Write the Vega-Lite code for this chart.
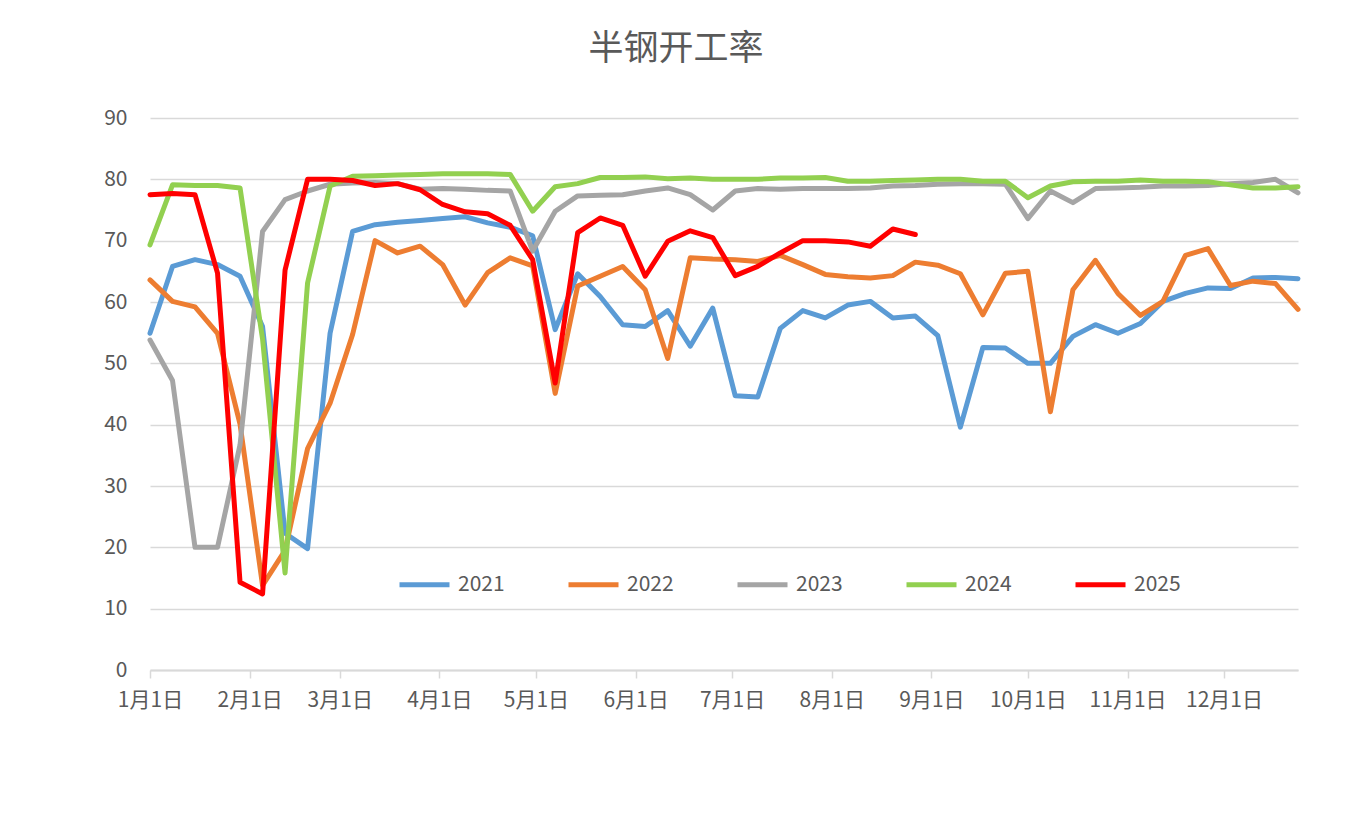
{
  "$schema": "https://vega.github.io/schema/vega-lite/v6.json",
  "width": 1148,
  "height": 552,
  "autosize": {"type": "none"},
  "padding": {"left": 150, "top": 118, "right": 57, "bottom": 159},
  "background": "white",
  "title": {"text": "半钢开工率", "fontSize": 35, "font": "Noto Sans CJK SC", "fontWeight": "normal", "color": "#595959", "anchor": "middle", "dx": -48, "offset": 40},
  "config": {"view": {"stroke": null}, "font": "Noto Sans CJK SC"},
  "datasets": {
    "rows": [
      {"date":"2021-01-01","year":"2021","value":54.9},{"date":"2021-01-08","year":"2021","value":65.8},{"date":"2021-01-15","year":"2021","value":66.9},{"date":"2021-01-22","year":"2021","value":66.1},{"date":"2021-01-29","year":"2021","value":64.2},{"date":"2021-02-05","year":"2021","value":56.0},{"date":"2021-02-12","year":"2021","value":22.3},{"date":"2021-02-19","year":"2021","value":19.8},{"date":"2021-02-26","year":"2021","value":54.9},{"date":"2021-03-05","year":"2021","value":71.5},{"date":"2021-03-12","year":"2021","value":72.6},{"date":"2021-03-19","year":"2021","value":73.0},{"date":"2021-03-26","year":"2021","value":73.3},{"date":"2021-04-02","year":"2021","value":73.6},{"date":"2021-04-09","year":"2021","value":73.9},{"date":"2021-04-16","year":"2021","value":72.9},{"date":"2021-04-23","year":"2021","value":72.2},{"date":"2021-04-30","year":"2021","value":70.8},{"date":"2021-05-07","year":"2021","value":55.5},{"date":"2021-05-14","year":"2021","value":64.6},{"date":"2021-05-21","year":"2021","value":60.9},{"date":"2021-05-28","year":"2021","value":56.3},{"date":"2021-06-04","year":"2021","value":56.0},{"date":"2021-06-11","year":"2021","value":58.6},{"date":"2021-06-18","year":"2021","value":52.8},{"date":"2021-06-25","year":"2021","value":59.0},{"date":"2021-07-02","year":"2021","value":44.7},{"date":"2021-07-09","year":"2021","value":44.5},{"date":"2021-07-16","year":"2021","value":55.7},{"date":"2021-07-23","year":"2021","value":58.6},{"date":"2021-07-30","year":"2021","value":57.4},{"date":"2021-08-06","year":"2021","value":59.5},{"date":"2021-08-13","year":"2021","value":60.1},{"date":"2021-08-20","year":"2021","value":57.4},{"date":"2021-08-27","year":"2021","value":57.7},{"date":"2021-09-03","year":"2021","value":54.5},{"date":"2021-09-10","year":"2021","value":39.6},{"date":"2021-09-17","year":"2021","value":52.6},{"date":"2021-09-24","year":"2021","value":52.5},{"date":"2021-10-01","year":"2021","value":50.0},{"date":"2021-10-08","year":"2021","value":50.0},{"date":"2021-10-15","year":"2021","value":54.4},{"date":"2021-10-22","year":"2021","value":56.3},{"date":"2021-10-29","year":"2021","value":54.9},{"date":"2021-11-05","year":"2021","value":56.5},{"date":"2021-11-12","year":"2021","value":60.1},{"date":"2021-11-19","year":"2021","value":61.4},{"date":"2021-11-26","year":"2021","value":62.3},{"date":"2021-12-03","year":"2021","value":62.2},{"date":"2021-12-10","year":"2021","value":63.9},{"date":"2021-12-17","year":"2021","value":64.0},{"date":"2021-12-24","year":"2021","value":63.8},

      {"date":"2021-01-01","year":"2022","value":63.6},{"date":"2021-01-08","year":"2022","value":60.1},{"date":"2021-01-15","year":"2022","value":59.2},{"date":"2021-01-22","year":"2022","value":54.9},{"date":"2021-01-29","year":"2022","value":40.1},{"date":"2021-02-05","year":"2022","value":13.8},{"date":"2021-02-12","year":"2022","value":19.5},{"date":"2021-02-19","year":"2022","value":36.1},{"date":"2021-02-26","year":"2022","value":43.5},{"date":"2021-03-05","year":"2022","value":54.7},{"date":"2021-03-12","year":"2022","value":70.0},{"date":"2021-03-19","year":"2022","value":68.0},{"date":"2021-03-26","year":"2022","value":69.1},{"date":"2021-04-02","year":"2022","value":66.1},{"date":"2021-04-09","year":"2022","value":59.5},{"date":"2021-04-16","year":"2022","value":64.8},{"date":"2021-04-23","year":"2022","value":67.2},{"date":"2021-04-30","year":"2022","value":65.9},{"date":"2021-05-07","year":"2022","value":45.1},{"date":"2021-05-14","year":"2022","value":62.6},{"date":"2021-05-21","year":"2022","value":64.2},{"date":"2021-05-28","year":"2022","value":65.8},{"date":"2021-06-04","year":"2022","value":62.0},{"date":"2021-06-11","year":"2022","value":50.8},{"date":"2021-06-18","year":"2022","value":67.2},{"date":"2021-06-25","year":"2022","value":67.0},{"date":"2021-07-02","year":"2022","value":66.9},{"date":"2021-07-09","year":"2022","value":66.6},{"date":"2021-07-16","year":"2022","value":67.6},{"date":"2021-07-23","year":"2022","value":66.1},{"date":"2021-07-30","year":"2022","value":64.5},{"date":"2021-08-06","year":"2022","value":64.1},{"date":"2021-08-13","year":"2022","value":63.9},{"date":"2021-08-20","year":"2022","value":64.3},{"date":"2021-08-27","year":"2022","value":66.5},{"date":"2021-09-03","year":"2022","value":66.0},{"date":"2021-09-10","year":"2022","value":64.6},{"date":"2021-09-17","year":"2022","value":57.9},{"date":"2021-09-24","year":"2022","value":64.7},{"date":"2021-10-01","year":"2022","value":65.0},{"date":"2021-10-08","year":"2022","value":42.1},{"date":"2021-10-15","year":"2022","value":62.0},{"date":"2021-10-22","year":"2022","value":66.8},{"date":"2021-10-29","year":"2022","value":61.4},{"date":"2021-11-05","year":"2022","value":57.8},{"date":"2021-11-12","year":"2022","value":60.1},{"date":"2021-11-19","year":"2022","value":67.6},{"date":"2021-11-26","year":"2022","value":68.7},{"date":"2021-12-03","year":"2022","value":62.7},{"date":"2021-12-10","year":"2022","value":63.4},{"date":"2021-12-17","year":"2022","value":63.0},{"date":"2021-12-24","year":"2022","value":58.8},

      {"date":"2021-01-01","year":"2023","value":53.8},{"date":"2021-01-08","year":"2023","value":47.2},{"date":"2021-01-15","year":"2023","value":20.0},{"date":"2021-01-22","year":"2023","value":20.0},{"date":"2021-01-29","year":"2023","value":36.7},{"date":"2021-02-05","year":"2023","value":71.5},{"date":"2021-02-12","year":"2023","value":76.7},{"date":"2021-02-19","year":"2023","value":78.1},{"date":"2021-02-26","year":"2023","value":79.2},{"date":"2021-03-05","year":"2023","value":79.4},{"date":"2021-03-12","year":"2023","value":79.5},{"date":"2021-03-19","year":"2023","value":79.3},{"date":"2021-03-26","year":"2023","value":78.4},{"date":"2021-04-02","year":"2023","value":78.5},{"date":"2021-04-09","year":"2023","value":78.4},{"date":"2021-04-16","year":"2023","value":78.2},{"date":"2021-04-23","year":"2023","value":78.1},{"date":"2021-04-30","year":"2023","value":68.3},{"date":"2021-05-07","year":"2023","value":74.8},{"date":"2021-05-14","year":"2023","value":77.3},{"date":"2021-05-21","year":"2023","value":77.4},{"date":"2021-05-28","year":"2023","value":77.5},{"date":"2021-06-04","year":"2023","value":78.1},{"date":"2021-06-11","year":"2023","value":78.6},{"date":"2021-06-18","year":"2023","value":77.5},{"date":"2021-06-25","year":"2023","value":75.0},{"date":"2021-07-02","year":"2023","value":78.1},{"date":"2021-07-09","year":"2023","value":78.5},{"date":"2021-07-16","year":"2023","value":78.4},{"date":"2021-07-23","year":"2023","value":78.5},{"date":"2021-07-30","year":"2023","value":78.5},{"date":"2021-08-06","year":"2023","value":78.5},{"date":"2021-08-13","year":"2023","value":78.6},{"date":"2021-08-20","year":"2023","value":78.9},{"date":"2021-08-27","year":"2023","value":79.0},{"date":"2021-09-03","year":"2023","value":79.2},{"date":"2021-09-10","year":"2023","value":79.3},{"date":"2021-09-17","year":"2023","value":79.3},{"date":"2021-09-24","year":"2023","value":79.2},{"date":"2021-10-01","year":"2023","value":73.6},{"date":"2021-10-08","year":"2023","value":78.1},{"date":"2021-10-15","year":"2023","value":76.2},{"date":"2021-10-22","year":"2023","value":78.5},{"date":"2021-10-29","year":"2023","value":78.6},{"date":"2021-11-05","year":"2023","value":78.7},{"date":"2021-11-12","year":"2023","value":78.9},{"date":"2021-11-19","year":"2023","value":78.9},{"date":"2021-11-26","year":"2023","value":79.0},{"date":"2021-12-03","year":"2023","value":79.3},{"date":"2021-12-10","year":"2023","value":79.5},{"date":"2021-12-17","year":"2023","value":80.0},{"date":"2021-12-24","year":"2023","value":77.8},

      {"date":"2021-01-01","year":"2024","value":69.3},{"date":"2021-01-08","year":"2024","value":79.1},{"date":"2021-01-15","year":"2024","value":79.0},{"date":"2021-01-22","year":"2024","value":79.0},{"date":"2021-01-29","year":"2024","value":78.6},{"date":"2021-02-05","year":"2024","value":54.0},{"date":"2021-02-12","year":"2024","value":15.8},{"date":"2021-02-19","year":"2024","value":63.1},{"date":"2021-02-26","year":"2024","value":78.9},{"date":"2021-03-05","year":"2024","value":80.5},{"date":"2021-03-12","year":"2024","value":80.6},{"date":"2021-03-19","year":"2024","value":80.7},{"date":"2021-03-26","year":"2024","value":80.8},{"date":"2021-04-02","year":"2024","value":80.9},{"date":"2021-04-09","year":"2024","value":80.9},{"date":"2021-04-16","year":"2024","value":80.9},{"date":"2021-04-23","year":"2024","value":80.8},{"date":"2021-04-30","year":"2024","value":74.8},{"date":"2021-05-07","year":"2024","value":78.8},{"date":"2021-05-14","year":"2024","value":79.3},{"date":"2021-05-21","year":"2024","value":80.3},{"date":"2021-05-28","year":"2024","value":80.3},{"date":"2021-06-04","year":"2024","value":80.4},{"date":"2021-06-11","year":"2024","value":80.1},{"date":"2021-06-18","year":"2024","value":80.2},{"date":"2021-06-25","year":"2024","value":80.0},{"date":"2021-07-02","year":"2024","value":80.0},{"date":"2021-07-09","year":"2024","value":80.0},{"date":"2021-07-16","year":"2024","value":80.2},{"date":"2021-07-23","year":"2024","value":80.2},{"date":"2021-07-30","year":"2024","value":80.3},{"date":"2021-08-06","year":"2024","value":79.7},{"date":"2021-08-13","year":"2024","value":79.7},{"date":"2021-08-20","year":"2024","value":79.8},{"date":"2021-08-27","year":"2024","value":79.9},{"date":"2021-09-03","year":"2024","value":80.0},{"date":"2021-09-10","year":"2024","value":80.0},{"date":"2021-09-17","year":"2024","value":79.7},{"date":"2021-09-24","year":"2024","value":79.7},{"date":"2021-10-01","year":"2024","value":77.0},{"date":"2021-10-08","year":"2024","value":78.9},{"date":"2021-10-15","year":"2024","value":79.6},{"date":"2021-10-22","year":"2024","value":79.7},{"date":"2021-10-29","year":"2024","value":79.7},{"date":"2021-11-05","year":"2024","value":79.9},{"date":"2021-11-12","year":"2024","value":79.7},{"date":"2021-11-19","year":"2024","value":79.7},{"date":"2021-11-26","year":"2024","value":79.6},{"date":"2021-12-03","year":"2024","value":79.1},{"date":"2021-12-10","year":"2024","value":78.6},{"date":"2021-12-17","year":"2024","value":78.6},{"date":"2021-12-24","year":"2024","value":78.8},

      {"date":"2021-01-01","year":"2025","value":77.5},{"date":"2021-01-08","year":"2025","value":77.7},{"date":"2021-01-15","year":"2025","value":77.5},{"date":"2021-01-22","year":"2025","value":64.7},{"date":"2021-01-29","year":"2025","value":14.3},{"date":"2021-02-05","year":"2025","value":12.4},{"date":"2021-02-12","year":"2025","value":65.2},{"date":"2021-02-19","year":"2025","value":80.0},{"date":"2021-02-26","year":"2025","value":80.0},{"date":"2021-03-05","year":"2025","value":79.8},{"date":"2021-03-12","year":"2025","value":79.0},{"date":"2021-03-19","year":"2025","value":79.3},{"date":"2021-03-26","year":"2025","value":78.3},{"date":"2021-04-02","year":"2025","value":75.9},{"date":"2021-04-09","year":"2025","value":74.7},{"date":"2021-04-16","year":"2025","value":74.4},{"date":"2021-04-23","year":"2025","value":72.5},{"date":"2021-04-30","year":"2025","value":66.9},{"date":"2021-05-07","year":"2025","value":46.8},{"date":"2021-05-14","year":"2025","value":71.3},{"date":"2021-05-21","year":"2025","value":73.7},{"date":"2021-05-28","year":"2025","value":72.5},{"date":"2021-06-04","year":"2025","value":64.2},{"date":"2021-06-11","year":"2025","value":69.9},{"date":"2021-06-18","year":"2025","value":71.6},{"date":"2021-06-25","year":"2025","value":70.5},{"date":"2021-07-02","year":"2025","value":64.3},{"date":"2021-07-09","year":"2025","value":65.8},{"date":"2021-07-16","year":"2025","value":68.0},{"date":"2021-07-23","year":"2025","value":70.0},{"date":"2021-07-30","year":"2025","value":70.0},{"date":"2021-08-06","year":"2025","value":69.8},{"date":"2021-08-13","year":"2025","value":69.1},{"date":"2021-08-20","year":"2025","value":71.9},{"date":"2021-08-27","year":"2025","value":71.0}
    ]
  },
  "data": {"name": "rows"},
  "mark": {"type": "line", "strokeWidth": 5, "strokeCap": "round", "strokeJoin": "round"},
  "encoding": {
    "x": {
      "field": "date", "type": "temporal",
      "scale": {"type": "utc", "domain": [{"year": 2021, "month": 1, "date": 1, "utc": true}, {"year": 2021, "month": 12, "date": 24, "utc": true}]},
      "axis": {
        "title": null, "grid": false,
        "values": [
          {"year": 2021, "month": 1, "date": 1, "utc": true},
          {"year": 2021, "month": 2, "date": 1, "utc": true},
          {"year": 2021, "month": 3, "date": 1, "utc": true},
          {"year": 2021, "month": 4, "date": 1, "utc": true},
          {"year": 2021, "month": 5, "date": 1, "utc": true},
          {"year": 2021, "month": 6, "date": 1, "utc": true},
          {"year": 2021, "month": 7, "date": 1, "utc": true},
          {"year": 2021, "month": 8, "date": 1, "utc": true},
          {"year": 2021, "month": 9, "date": 1, "utc": true},
          {"year": 2021, "month": 10, "date": 1, "utc": true},
          {"year": 2021, "month": 11, "date": 1, "utc": true},
          {"year": 2021, "month": 12, "date": 1, "utc": true}
        ],
        "labelExpr": "utcFormat(datum.value, '%-m月%-d日')",
        "labelFont": "Noto Sans CJK SC", "labelFontSize": 21, "labelColor": "#595959", "labelPadding": 11,
        "labelOverlap": false, "labelFlush": false,
        "domainColor": "#d9d9d9", "domainWidth": 2,
        "tickColor": "#d9d9d9", "tickSize": 8, "tickWidth": 1.5
      }
    },
    "y": {
      "field": "value", "type": "quantitative",
      "scale": {"domain": [0, 90], "nice": false},
      "axis": {
        "title": null, "values": [0, 10, 20, 30, 40, 50, 60, 70, 80, 90],
        "domain": false, "ticks": false,
        "labelFont": "Noto Sans CJK SC", "labelFontSize": 21, "labelColor": "#595959", "labelPadding": 23,
        "gridColor": "#d9d9d9", "gridWidth": 1.5
      }
    },
    "color": {
      "field": "year", "type": "nominal",
      "scale": {"domain": ["2021", "2022", "2023", "2024", "2025"], "range": ["#5B9BD5", "#ED7D31", "#A5A5A5", "#92D050", "#FF0000"]},
      "legend": {
        "title": null, "orient": "none", "legendX": 247, "legendY": 439, "direction": "horizontal",
        "symbolType": "stroke", "symbolSize": 2500, "symbolStrokeWidth": 5,
        "labelFont": "Noto Sans CJK SC", "labelFontSize": 21, "labelColor": "#595959", "labelOffset": 6,
        "columnPadding": 53, "padding": 0
      }
    }
  }
}
